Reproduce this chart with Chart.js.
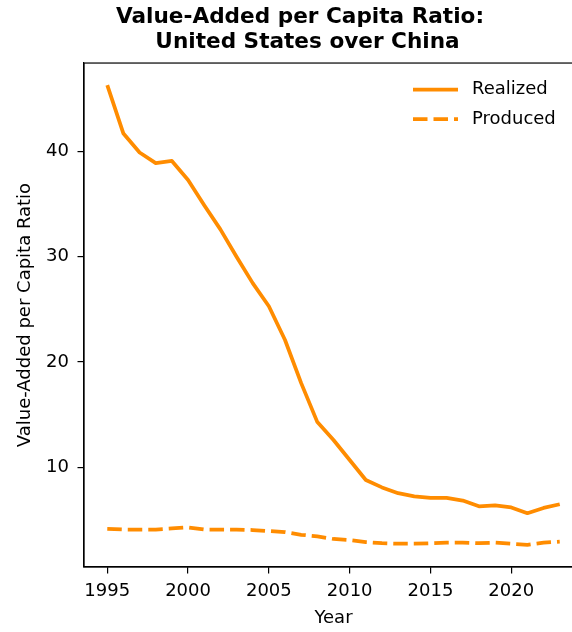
<!DOCTYPE html>
<html>
<head>
<meta charset="utf-8">
<script src="https://cdn.jsdelivr.net/npm/chart.js@4.4.0/dist/chart.umd.min.js"></script>
<style>
  html, body { margin: 0; padding: 0; background: #fff; overflow: hidden; }
  #wrap { width: 600px; height: 632px; }
</style>
</head>
<body>
<div id="wrap"><canvas id="c" width="600" height="632"></canvas></div>
<script>
const years = [1995,1996,1997,1998,1999,2000,2001,2002,2003,2004,2005,2006,2007,2008,2009,2010,2011,2012,2013,2014,2015,2016,2017,2018,2019,2020,2021,2022,2023];
const realized = [46.3,41.7,39.9,38.9,39.1,37.3,34.9,32.6,30.0,27.5,25.3,22.1,18.0,14.3,12.6,10.7,8.8,8.1,7.55,7.25,7.1,7.1,6.85,6.3,6.4,6.2,5.65,6.15,6.5];
const produced = [4.15,4.1,4.1,4.1,4.2,4.3,4.1,4.1,4.1,4.05,3.95,3.85,3.6,3.45,3.2,3.1,2.9,2.8,2.75,2.75,2.8,2.85,2.85,2.8,2.85,2.75,2.65,2.85,2.95];
const xTicks = [1995,2000,2005,2010,2015,2020];
const yTicks = [10,20,30,40];
const seriesNames = ['Realized','Produced'];
const titleLines = ['Value-Added per Capita Ratio:', '  United States over China'];
const xLabel = 'Year';
const yLabel = 'Value-Added per Capita Ratio';

const ORANGE = '#ff8c00';
const FONT = 'DejaVu Sans';

const toPts = arr => years.map((y, i) => ({x: y, y: arr[i]}));

const framePlugin = {
  id: 'frame',
  afterDatasetsDraw(chart) {
    const {ctx, chartArea: a} = chart;
    ctx.save();
    ctx.strokeStyle = '#000';
    ctx.lineWidth = 1.2;
    ctx.strokeRect(a.left, a.top, a.right - a.left, a.bottom - a.top);
    ctx.restore();
  }
};

const legendPlugin = {
  id: 'innerLegend',
  afterDraw(chart) {
    const {ctx, chartArea: a} = chart;
    ctx.save();
    ctx.font = '18px "' + FONT + '"';
    ctx.textBaseline = 'middle';
    ctx.fillStyle = '#000';
    chart.data.datasets.forEach((ds, i) => {
      const y = a.top + 26.5 + i * 29.5;
      const x0 = a.right - 170;
      ctx.strokeStyle = ds.borderColor;
      ctx.lineWidth = ds.borderWidth;
      ctx.setLineDash(ds.borderDash || []);
      ctx.lineCap = 'butt';
      ctx.beginPath();
      ctx.moveTo(x0, y);
      ctx.lineTo(x0 + 45, y);
      ctx.stroke();
      ctx.setLineDash([]);
      ctx.fillText(ds.label, x0 + 59, y);
    });
    ctx.restore();
  }
};

new Chart(document.getElementById('c'), {
  type: 'line',
  data: {
    datasets: [
      { label: seriesNames[0], data: toPts(realized), borderColor: ORANGE, borderWidth: 3.75, pointRadius: 0, tension: 0, borderJoinStyle: 'round', fill: false },
      { label: seriesNames[1], data: toPts(produced), borderColor: ORANGE, borderWidth: 3.75, borderDash: [14.5, 6], pointRadius: 0, tension: 0, fill: false }
    ]
  },
  options: {
    responsive: false,
    animation: false,
    devicePixelRatio: 1,
    layout: { padding: 0 },
    plugins: {
      legend: { display: false },
      tooltip: { enabled: false },
      title: {
        display: true,
        text: titleLines,
        color: '#000',
        font: { family: FONT, size: 21.6, weight: 'bold', lineHeight: 1.2 },
        padding: { top: 4, bottom: 7.2 }
      }
    },
    scales: {
      x: {
        type: 'linear',
        position: 'bottom',
        min: 1993.56,
        max: 2024.44,
        afterBuildTicks: s => { s.ticks = xTicks.map(v => ({value: v})); },
        afterFit: s => { s.height = 65; },
        grid: { display: true, drawOnChartArea: false, drawTicks: true, tickLength: 6.5, color: '#000', lineWidth: 1.2 },
        border: { display: true, color: '#000', width: 1.2 },
        ticks: { color: '#000', font: { family: FONT, size: 18 }, padding: 7, maxRotation: 0, callback: v => String(v) },
        title: { display: true, text: xLabel, color: '#000', font: { family: FONT, size: 18 }, padding: { top: 0, bottom: 3 } }
      },
      y: {
        type: 'linear',
        position: 'left',
        min: 0.54,
        max: 48.4,
        afterBuildTicks: s => { s.ticks = yTicks.map(v => ({value: v})); },
        afterFit: s => { s.width = 84; },
        grid: { display: true, drawOnChartArea: false, drawTicks: true, tickLength: 6.5, color: '#000', lineWidth: 1.2 },
        border: { display: true, color: '#000', width: 1.2 },
        ticks: { color: '#000', font: { family: FONT, size: 18 }, padding: 8.5, callback: v => String(v) },
        title: { display: true, text: yLabel, color: '#000', font: { family: FONT, size: 18 }, padding: { top: 15, bottom: 0 } }
      },
      y2: {
        type: 'linear',
        position: 'right',
        display: true,
        afterFit: s => { s.width = 17; },
        grid: { display: false },
        border: { display: false },
        ticks: { display: false }
      }
    }
  },
  plugins: [framePlugin, legendPlugin]
});
</script>
</body>
</html>
